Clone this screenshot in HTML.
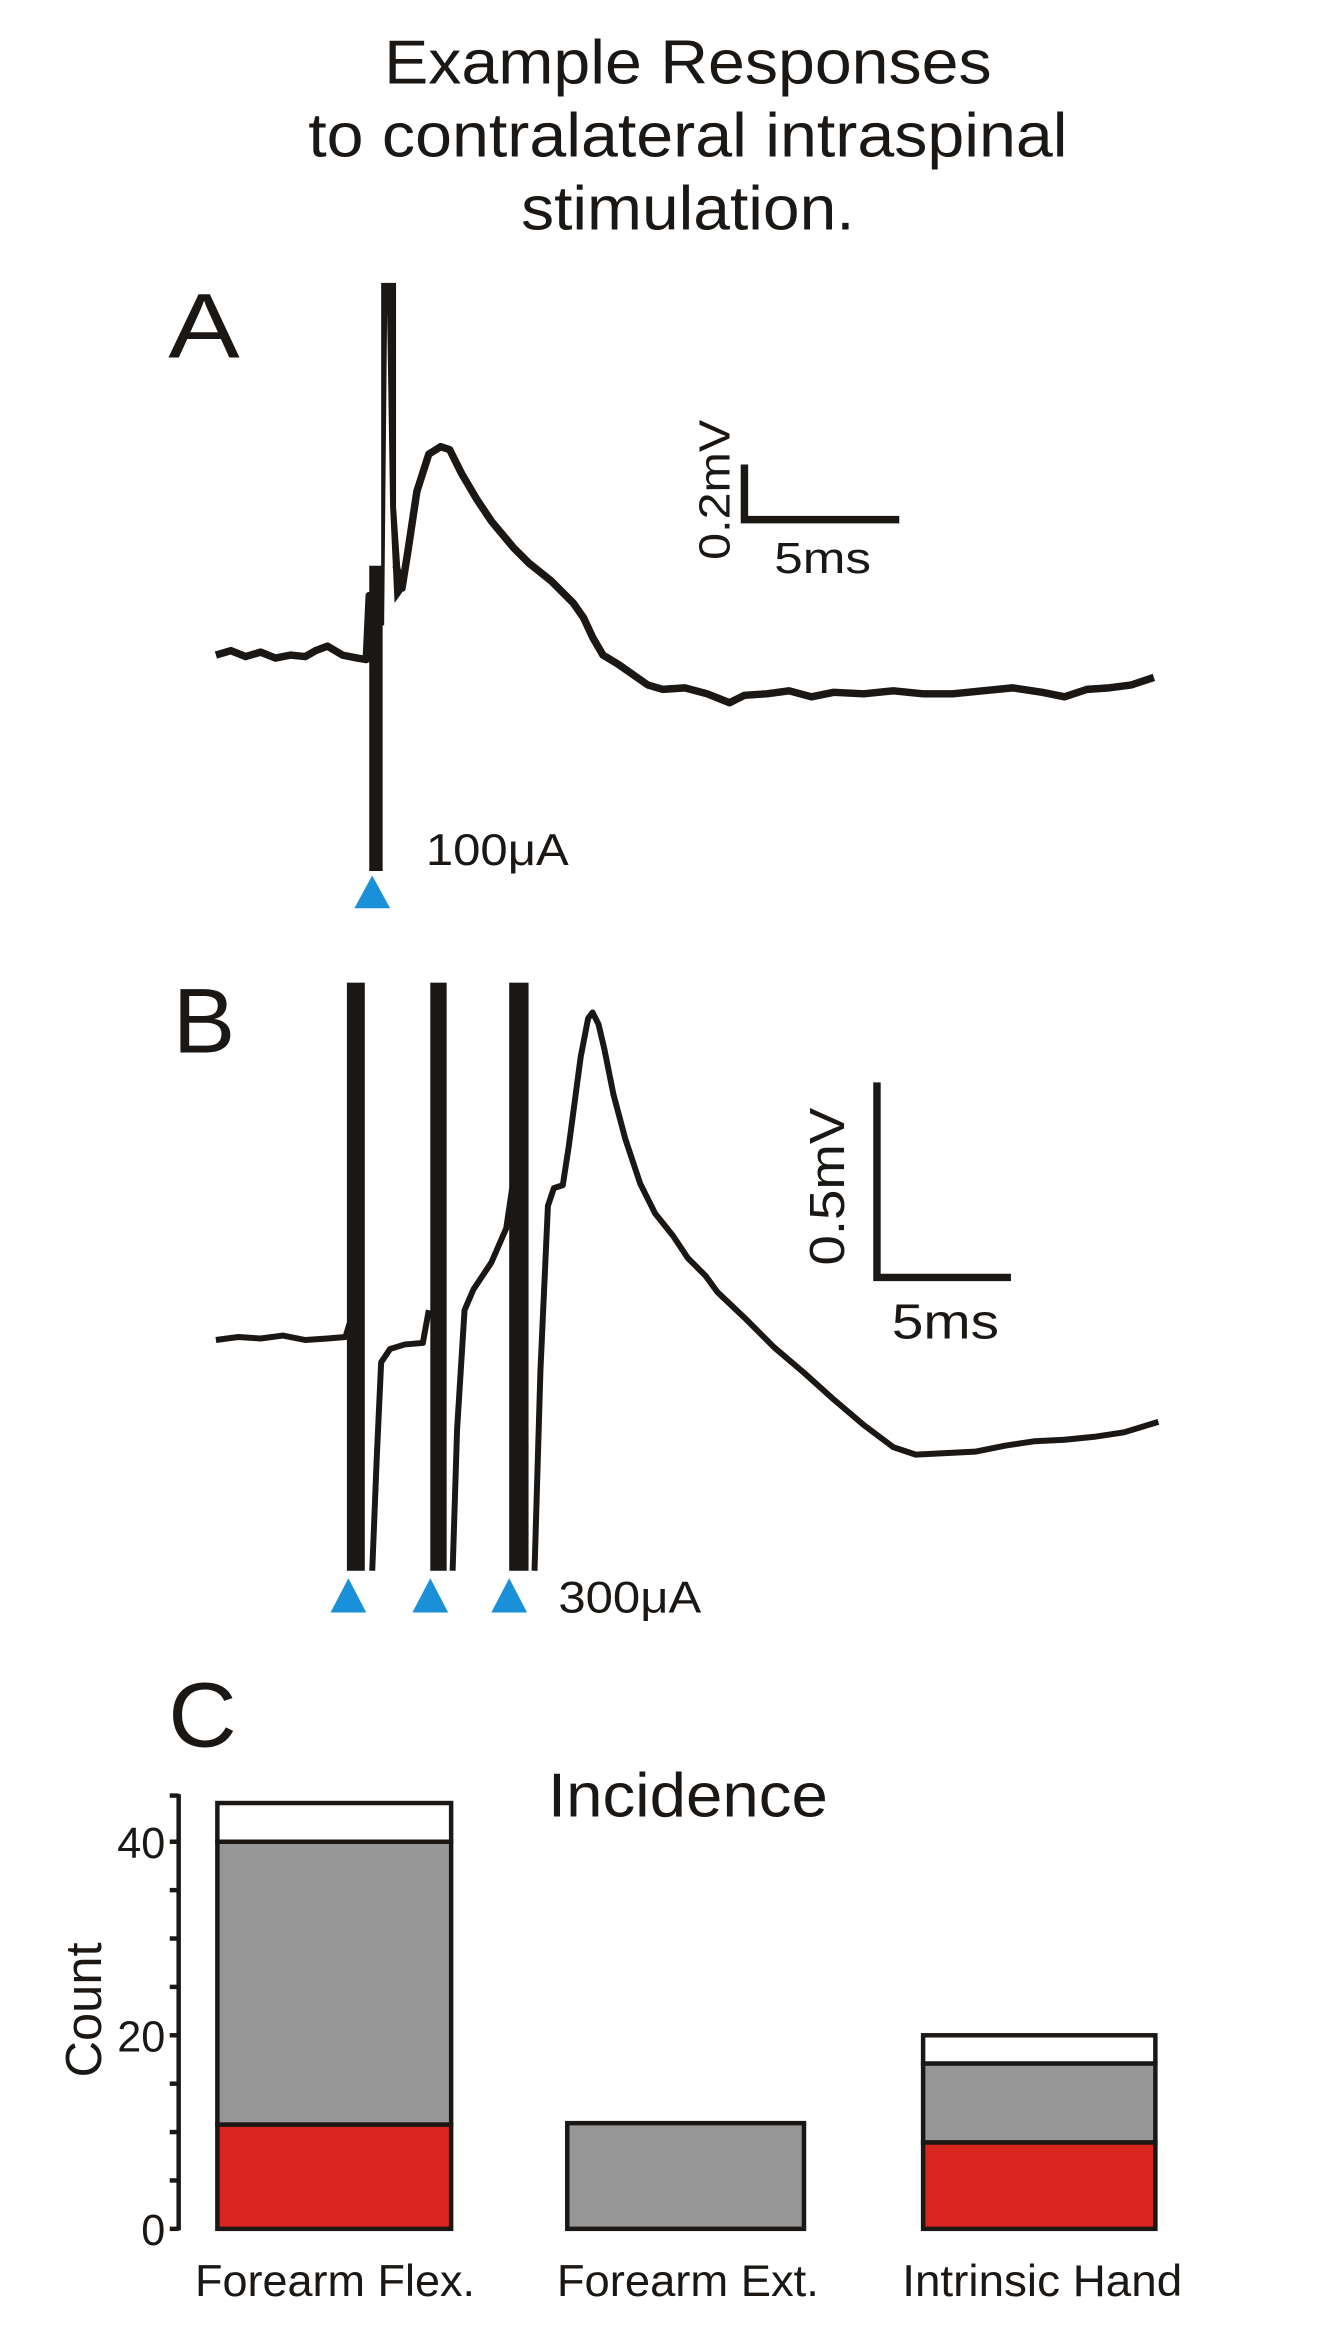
<!DOCTYPE html>
<html><head><meta charset="utf-8"><style>
html,body{margin:0;padding:0;background:#fff;}
svg{display:block;}
text{font-family:"Liberation Sans",sans-serif;fill:#1a1714;}
</style></head><body>
<svg width="1340" height="2342" viewBox="0 0 900 1573" preserveAspectRatio="none" xmlns="http://www.w3.org/2000/svg">
<rect width="900" height="1573" fill="#fff"/>
<g font-size="42" text-anchor="middle">
<text x="462" y="56" textLength="408" lengthAdjust="spacingAndGlyphs">Example Responses</text>
<text x="462" y="105" textLength="510" lengthAdjust="spacingAndGlyphs">to contralateral intraspinal</text>
<text x="462" y="154" textLength="224" lengthAdjust="spacingAndGlyphs">stimulation.</text>
</g>
<text x="113" y="240" font-size="62" textLength="48" lengthAdjust="spacingAndGlyphs">A</text>
<text x="116" y="707" font-size="62" textLength="42" lengthAdjust="spacingAndGlyphs">B</text>
<text x="113" y="1173" font-size="62" textLength="46" lengthAdjust="spacingAndGlyphs">C</text>

<!-- Trace A -->
<g fill="none" stroke="#1a1714" stroke-width="5" stroke-linejoin="round">
<path d="M145,440 L155,437 L165,441 L175,438 L185,442 L195,440 L205,441 L212,437 L220,434 L230,440 L240,442 L246,443 L248,400 L252,470 L254,585"/>
<path d="M266,380 L270,395 L274,370 L280,330 L288,305 L296,300 L302,302 L310,318 L320,335 L330,350 L345,368 L355,378 L370,390 L385,405 L392,415 L398,428 L405,440 L415,446 L425,453 L435,460 L445,463 L460,462 L475,466 L490,472 L500,467 L515,466 L530,464 L545,468 L560,465 L580,466 L600,464 L620,466 L640,466 L660,464 L680,462 L700,465 L715,468 L730,463 L745,462 L760,460 L775,455"/>
</g>
<polygon points="248,380 257,380 257,585 248,585" fill="#1a1714"/>
<polygon points="256,190 266,190 266,340 270,398 265,405 262,340 260,210 258,420 256,420" fill="#1a1714"/>
<!-- scale A -->
<path d="M500,312 L500,349 L604,349" fill="none" stroke="#1a1714" stroke-width="5"/>
<text font-size="29" transform="translate(490,376) rotate(-90)" textLength="94" lengthAdjust="spacingAndGlyphs">0.2mV</text>
<text x="520" y="385" font-size="29" textLength="65" lengthAdjust="spacingAndGlyphs">5ms</text>
<text x="286" y="581" font-size="30" textLength="96" lengthAdjust="spacingAndGlyphs">100μA</text>
<polygon points="250,588 238,610 262,610" fill="#1a90d8"/>

<!-- Trace B -->
<g fill="none" stroke="#1a1714" stroke-width="4" stroke-linejoin="round">
<path d="M145,900 L160,898 L175,899 L190,897 L205,900 L220,899 L232,898 L236,885"/>
<path d="M250,1055 L253,980 L256,915 L262,906 L272,903 L284,902 L288,880"/>
<path d="M304,1055 L307,960 L312,880 L318,866 L330,848 L340,825 L344,798"/>
<path d="M359,1055 L363,920 L368,810 L372,798 L378,796 L382,770 L386,740 L390,710 L395,684 L398,680 L402,688 L406,705 L412,735 L420,765 L430,795 L440,815 L452,830 L462,845 L474,857 L482,868 L500,885 L520,905 L540,922 L560,940 L580,957 L600,972 L615,977 L635,976 L655,975 L675,971 L695,968 L715,967 L735,965 L755,962 L778,955"/>
</g>
<rect x="233" y="660" width="12" height="395" fill="#1a1714"/>
<rect x="289" y="660" width="11" height="395" fill="#1a1714"/>
<rect x="342" y="660" width="13" height="395" fill="#1a1714"/>
<!-- scale B -->
<path d="M589,727 L589,858 L679,858" fill="none" stroke="#1a1714" stroke-width="5"/>
<text font-size="33" transform="translate(567,850) rotate(-90)" textLength="106" lengthAdjust="spacingAndGlyphs">0.5mV</text>
<text x="599" y="899" font-size="33" textLength="72" lengthAdjust="spacingAndGlyphs">5ms</text>
<text x="375" y="1083" font-size="30" textLength="96" lengthAdjust="spacingAndGlyphs">300μA</text>
<polygon points="234,1060 222,1083 246,1083" fill="#1a90d8"/>
<polygon points="289,1060 277,1083 301,1083" fill="#1a90d8"/>
<polygon points="342,1060 330,1083 354,1083" fill="#1a90d8"/>

<!-- Chart C -->
<text x="462" y="1220" font-size="42" text-anchor="middle" textLength="188" lengthAdjust="spacingAndGlyphs">Incidence</text>
<g stroke="#1a1714" stroke-width="3">
<line x1="120" y1="1205" x2="120" y2="1498"/>
<line x1="114" y1="1497" x2="120" y2="1497"/>
<line x1="114" y1="1464.5" x2="120" y2="1464.5"/>
<line x1="114" y1="1432" x2="120" y2="1432"/>
<line x1="114" y1="1399.5" x2="120" y2="1399.5"/>
<line x1="114" y1="1367" x2="120" y2="1367"/>
<line x1="114" y1="1334.5" x2="120" y2="1334.5"/>
<line x1="114" y1="1302" x2="120" y2="1302"/>
<line x1="114" y1="1269.5" x2="120" y2="1269.5"/>
<line x1="114" y1="1237" x2="120" y2="1237"/>
<line x1="114" y1="1206" x2="120" y2="1206"/>
</g>
<g font-size="29" text-anchor="end">
<text x="111" y="1248">40</text>
<text x="111" y="1378">20</text>
<text x="111" y="1508">0</text>
</g>
<text font-size="34" text-anchor="middle" transform="translate(68,1350) rotate(-90)">Count</text>
<g stroke="#1a1714" stroke-width="3">
<rect x="146" y="1211" width="157" height="26" fill="#fff"/>
<rect x="146" y="1237" width="157" height="190" fill="#969696"/>
<rect x="146" y="1427" width="157" height="70" fill="#d9251e"/>
<rect x="381" y="1426" width="159" height="71" fill="#969696"/>
<rect x="620" y="1367" width="156" height="19" fill="#fff"/>
<rect x="620" y="1386" width="156" height="53" fill="#969696"/>
<rect x="620" y="1439" width="156" height="58" fill="#d9251e"/>
</g>
<g font-size="30" text-anchor="middle">
<text x="225" y="1542" textLength="188" lengthAdjust="spacingAndGlyphs">Forearm Flex.</text>
<text x="462" y="1542" textLength="176" lengthAdjust="spacingAndGlyphs">Forearm Ext.</text>
<text x="700" y="1542" textLength="188" lengthAdjust="spacingAndGlyphs">Intrinsic Hand</text>
</g>
</svg>
</body></html>
